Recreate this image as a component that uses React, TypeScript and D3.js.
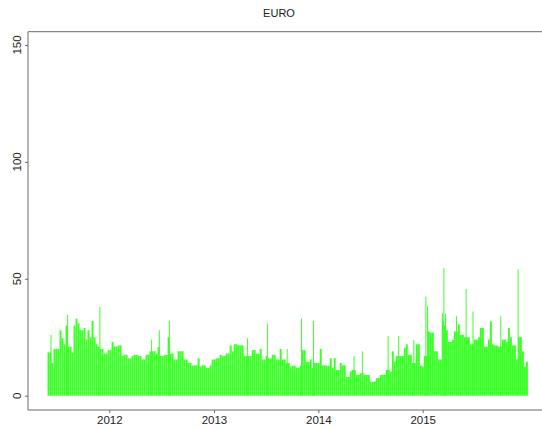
import { useEffect, useRef } from 'react';
import * as d3 from 'd3';

const title = 'EURO';

// weekly readings, first week starting 2011-05-30
const startDate = '2011-05-30';
const weekly = [
  18.5, 18.5, 14, 20, 20, 20, 28, 24.6, 22, 30,
  21, 21, 18.5, 30, 33, 31, 28, 28, 29, 24,
  28, 25, 32, 25, 22, 21, 20, 20, 18, 18,
  19.5, 19.5, 23, 21, 21, 21.5, 21.5, 17, 17.5, 17.5,
  16, 16, 17, 17.5, 17.5, 17, 17, 15.5, 15.5, 17.5,
  17.5, 19, 19, 19, 18, 20.8, 17, 17, 17.5, 17.5,
  25, 18, 18, 15.5, 15.5, 19, 19, 19, 15.5, 15.5,
  14, 14, 12.8, 13, 13, 16, 12.5, 13, 13, 11.8,
  11.8, 13, 15.5, 15.5, 16, 16, 17.5, 17, 17, 18,
  18, 21.5, 19, 22, 22, 21.5, 21.5, 21.5, 17, 17,
  17, 17, 19.5, 19.5, 18, 18, 20, 15.5, 15.5, 17,
  16, 16, 17.5, 17.5, 15.5, 15.5, 20, 15.5, 15.5, 14,
  14, 12.5, 12.8, 12.8, 12, 12, 12.8, 19.5, 19.5, 14.5,
  14.5, 15.5, 11.8, 14, 14, 14, 20, 13, 13, 12.8,
  12.8, 16, 11.8, 16, 11, 11, 14, 13, 13, 8,
  8, 10.4, 11, 11, 8.9, 8.9, 9.6, 9.6, 8.9, 8.9,
  8.9, 6, 6, 6, 7.5, 7.5, 8.9, 8.9, 8.9, 11,
  11, 10.4, 19, 14.6, 17, 17, 17, 17, 20.5, 22,
  17.5, 17.5, 14, 14, 22, 22, 13, 12.5, 17, 17,
  27.5, 27, 27, 19, 19, 15.5, 15.5, 31.8, 30, 28,
  23, 23, 23.9, 27.5, 27.5, 30.5, 26, 26, 25, 25,
  25, 22, 22, 24, 24, 25, 29, 29, 21, 21,
  24, 31.8, 22, 21.5, 21.5, 21, 21, 24, 24, 23,
  29, 25, 21.5, 21.5, 15.5, 25, 25, 19, 12.5, 14.5,
];

// single days that stand out above the weekly level
const spikeDates = [
  '2011-06-11', '2011-08-08', '2011-11-29', '2012-05-28', '2012-06-24',
  '2012-07-29', '2013-04-28', '2013-07-07', '2013-09-14', '2013-11-03',
  '2013-12-15', '2014-05-06', '2014-06-04', '2014-09-02', '2014-10-09',
  '2014-12-01', '2015-01-12', '2015-01-18', '2015-03-11', '2015-03-16',
  '2015-03-22', '2015-04-29', '2015-06-02', '2015-06-26', '2015-10-01',
  '2015-12-01',
];
const spikeValues = [
  26, 34.6, 38, 24, 28,
  32, 24.6, 30.8, 20, 33,
  32, 17, 19, 25.6, 25.6,
  23.8, 42.4, 38.2, 35.3, 54.6,
  35, 34, 45.6, 36, 34,
  54,
];

const yTicks = [0, 50, 100, 150];
const xTickDates = ['2012-01-01', '2013-01-01', '2014-01-01', '2015-01-01'];
const xTickLabels = ['2012', '2013', '2014', '2015'];

const W = 542;
const H = 430;
const FONT = '"Liberation Sans", Arial, Helvetica, sans-serif';
const GREEN = '#3cff2a';
const AXIS = '#6b6b6b';

const App = () => {
  const svgRef = useRef<SVGSVGElement | null>(null);

  useEffect(() => {
    if (!svgRef.current) return;
    const svg = d3.select(svgRef.current);
    svg.selectAll('*').remove();

    const parse = d3.timeParse('%Y-%m-%d');
    const start = parse(startDate) as Date;

    const x = d3.scaleTime()
      .domain([parse(xTickDates[0]) as Date, parse(xTickDates[3]) as Date])
      .range([109.3, 422.7]);
    const y = d3.scaleLinear().domain([0, 150]).range([395.7, 45]);

    const left = 28, top = 31.7, bottom = 410;

    // weekly bars
    const weeks = weekly.map((v, i) => ({ d: d3.timeDay.offset(start, i * 7), v }));
    svg.append('g')
      .selectAll('rect')
      .data(weeks)
      .enter()
      .append('rect')
      .attr('x', d => x(d.d))
      .attr('width', d => (x(d3.timeDay.offset(d.d, 7)) - x(d.d)) * 0.97)
      .attr('y', d => y(d.v))
      .attr('height', d => y(0) - y(d.v))
      .attr('fill', GREEN);

    // spike days
    const spikes = spikeDates.map((s, i) => ({ d: parse(s) as Date, v: spikeValues[i] }));
    svg.append('g')
      .selectAll('line')
      .data(spikes)
      .enter()
      .append('line')
      .attr('x1', d => x(d.d))
      .attr('x2', d => x(d.d))
      .attr('y1', y(0))
      .attr('y2', d => y(d.v))
      .attr('stroke', GREEN)
      .attr('stroke-width', 1);

    // frame (left, top, bottom)
    svg.append('path')
      .attr('d', `M${W},${top}H${left}V${bottom}H${W}`)
      .attr('fill', 'none')
      .attr('stroke', AXIS)
      .attr('stroke-width', 1);

    // y axis
    const ya = svg.append('g')
      .attr('transform', `translate(${left},0)`)
      .call(d3.axisLeft(y).tickValues(yTicks).tickSize(3).tickFormat(() => ''));
    ya.select('.domain').remove();
    ya.selectAll('line').attr('stroke', AXIS);

    svg.append('g')
      .selectAll('text')
      .data(yTicks)
      .enter()
      .append('text')
      .attr('transform', d => `translate(21,${y(d)}) rotate(-90)`)
      .attr('text-anchor', 'middle')
      .style('font-family', FONT)
      .style('font-size', '11.5px')
      .attr('fill', '#222')
      .text(d => `${d}`);

    // x axis
    const xa = svg.append('g')
      .attr('transform', `translate(0,${bottom})`)
      .call(d3.axisBottom(x)
        .tickValues(xTickDates.map(s => parse(s) as Date))
        .tickSize(3)
        .tickFormat((_, i) => xTickLabels[i]));
    xa.select('.domain').remove();
    xa.selectAll('line').attr('stroke', AXIS);
    xa.selectAll('text')
      .attr('y', 13.5)
      .attr('dy', 0)
      .attr('fill', '#222')
      .style('font-family', FONT)
      .style('font-size', '11.5px');

    // title
    svg.append('text')
      .attr('x', 279)
      .attr('y', 17)
      .attr('text-anchor', 'middle')
      .style('font-family', FONT)
      .style('font-size', '11px')
      .attr('fill', '#222')
      .text(title);
  }, []);

  return (
    <svg
      ref={svgRef}
      width={W}
      height={H}
      style={{ position: 'absolute', left: 0, top: 0, background: '#fff' }}
    />
  );
};

export default App;
